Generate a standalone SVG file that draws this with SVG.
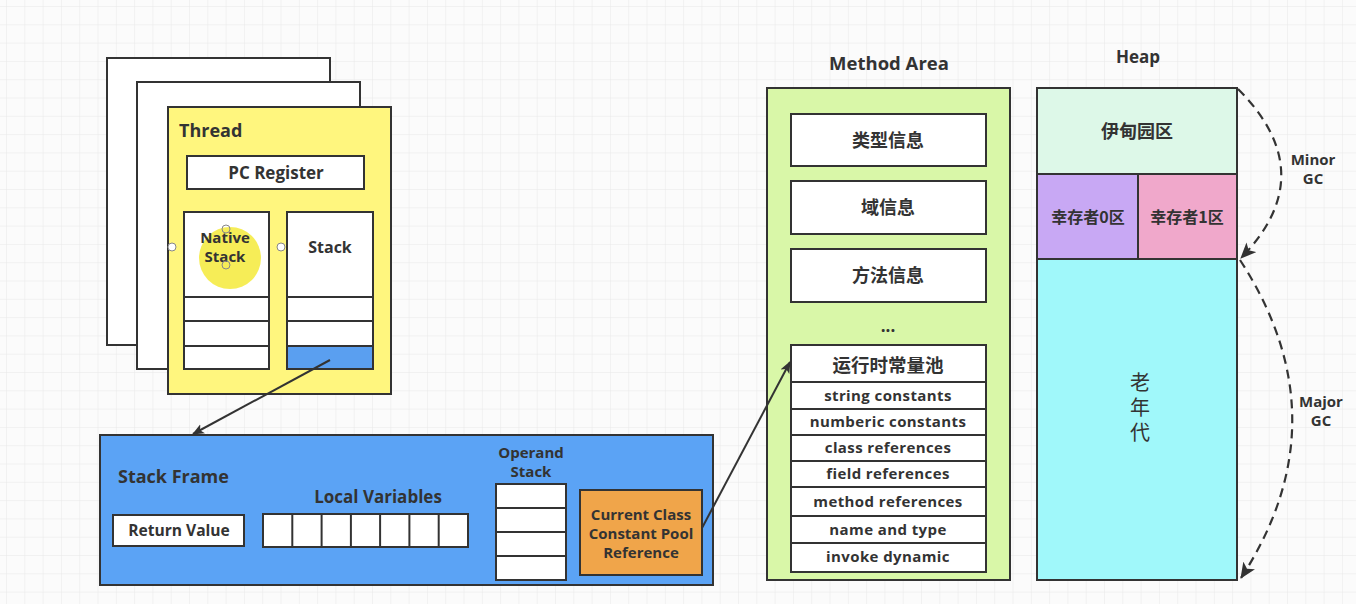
<svg xmlns="http://www.w3.org/2000/svg" width="1356" height="604" viewBox="0 0 1356 604">
<defs>
<pattern id="grid" x="7" y="7" width="18.3" height="18.3" patternUnits="userSpaceOnUse">
<path d="M18.3 0V18.3M0 18.3H18.3" fill="none" stroke="#e8e8e8" stroke-width="1"/>
</pattern>
<marker id="arr" viewBox="0 0 12 12" refX="11" refY="6" markerWidth="12" markerHeight="12" markerUnits="userSpaceOnUse" orient="auto">
<path d="M0,1 L12,6 L0,11 L3,6 Z" fill="#333"/>
</marker>
<marker id="arr2" viewBox="0 0 16 14" refX="15" refY="7" markerWidth="16" markerHeight="14" markerUnits="userSpaceOnUse" orient="auto">
<path d="M0,0 L16,7 L0,14 L4,7 Z" fill="#333"/>
</marker>
</defs>
<style>
.b{stroke:#333;stroke-width:2}
.w{fill:#fff;stroke:#333;stroke-width:2}
.t{font-family:"Open Sans","Noto Sans CJK SC",sans-serif;font-weight:bold;fill:#333;text-anchor:middle}
.s14{font-size:14px}
.s15{font-size:15px}
.s16{font-size:16px}
.s17{font-size:17px}
.s18{font-size:18px}
.m{font-size:15px;letter-spacing:0.4px}
.c{font-family:"Noto Sans CJK SC",sans-serif;font-weight:bold;fill:#333;text-anchor:middle}
.dash{fill:none;stroke:#333;stroke-width:2.2;stroke-dasharray:9 6}
</style>
<rect width="1356" height="604" fill="#fbfbfb"/>
<rect width="1356" height="604" fill="url(#grid)"/>

<g id="thread-pages">
<rect x="107" y="58" width="223" height="287" class="w"/>
<rect x="137" y="82" width="223" height="287" class="w"/>
</g>

<g id="thread">
<rect x="168" y="107" width="223" height="287" fill="#fff67e" class="b"/>
<text x="179" y="137" class="t s18" style="text-anchor:start">Thread</text>
</g>

<g id="pc-register">
<rect x="187" y="156" width="177" height="33" class="w"/>
<text x="276" y="179" class="t s17">PC Register</text>
</g>

<g id="native-stack">
<rect x="184" y="212" width="85" height="157" class="w"/>
<line x1="184" y1="297" x2="269" y2="297" class="b"/>
<line x1="184" y1="321" x2="269" y2="321" class="b"/>
<line x1="184" y1="346" x2="269" y2="346" class="b"/>
<circle cx="230" cy="258" r="31" fill="#f5ea3a" opacity="0.85"/>
<text x="225" y="243" class="t s15">Native</text>
<text x="225" y="262" class="t s15">Stack</text>
<circle cx="172" cy="247" r="4" fill="#fff" stroke="#888" stroke-width="1"/>
<circle cx="281" cy="247" r="4" fill="#fff" stroke="#888" stroke-width="1"/>
<circle cx="226" cy="229" r="4" fill="none" stroke="#888" stroke-width="1"/>
<circle cx="226" cy="265" r="4" fill="none" stroke="#888" stroke-width="1"/>
</g>

<g id="stack">
<rect x="287" y="212" width="86" height="157" class="w"/>
<rect x="287" y="346" width="86" height="23" fill="#5a9ff0" class="b"/>
<line x1="287" y1="297" x2="373" y2="297" class="b"/>
<line x1="287" y1="321" x2="373" y2="321" class="b"/>
<text x="330" y="253" class="t s16">Stack</text>
</g>

<g id="stack-frame">
<rect x="100" y="435" width="613" height="150" fill="#5ba3f5" class="b"/>
<text x="118" y="483" class="t s18" style="text-anchor:start">Stack Frame</text>
</g>

<g id="return-value">
<rect x="113" y="515" width="131" height="31" class="w"/>
<text x="179" y="536" class="t" style="font-size:15.6px">Return Value</text>
</g>

<g id="local-variables">
<text x="378" y="503" class="t s17">Local Variables</text>
<rect x="263" y="514" width="205" height="33" class="w"/>
<line x1="292.3" y1="514" x2="292.3" y2="547" class="b"/>
<line x1="321.6" y1="514" x2="321.6" y2="547" class="b"/>
<line x1="350.9" y1="514" x2="350.9" y2="547" class="b"/>
<line x1="380.1" y1="514" x2="380.1" y2="547" class="b"/>
<line x1="409.4" y1="514" x2="409.4" y2="547" class="b"/>
<line x1="438.7" y1="514" x2="438.7" y2="547" class="b"/>
</g>

<g id="operand-stack">
<text x="531" y="458" class="t s15">Operand</text>
<text x="531" y="477" class="t s15">Stack</text>
<rect x="496" y="484" width="70" height="96" class="w"/>
<line x1="496" y1="508" x2="566" y2="508" class="b"/>
<line x1="496" y1="532" x2="566" y2="532" class="b"/>
<line x1="496" y1="556" x2="566" y2="556" class="b"/>
</g>

<g id="current-class-ref">
<rect x="580" y="490" width="122" height="85" fill="#f0a54a" class="b"/>
<text x="641" y="520" class="t s15">Current Class</text>
<text x="641" y="539" class="t s15">Constant Pool</text>
<text x="641" y="558" class="t s15">Reference</text>
</g>

<g id="method-area">
<text x="889" y="70" class="t" style="font-size:18.5px">Method Area</text>
<rect x="767" y="88" width="243" height="492" fill="#d9f7a8" class="b"/>
<text x="888" y="332" class="t s17">...</text>
</g>

<g id="type-info">
<rect x="791" y="114" width="195" height="52" class="w"/>
<text x="888" y="147" class="c s18">类型信息</text>
</g>
<g id="field-info">
<rect x="791" y="181" width="195" height="53" class="w"/>
<text x="888" y="214" class="c s18">域信息</text>
</g>
<g id="method-info">
<rect x="791" y="249" width="195" height="53" class="w"/>
<text x="888" y="282" class="c s18">方法信息</text>
</g>

<g id="runtime-constant-pool">
<rect x="791" y="345" width="195" height="227" class="w"/>
<line x1="791" y1="382" x2="986" y2="382" class="b"/>
<line x1="791" y1="409" x2="986" y2="409" class="b"/>
<line x1="791" y1="435" x2="986" y2="435" class="b"/>
<line x1="791" y1="461" x2="986" y2="461" class="b"/>
<line x1="791" y1="487" x2="986" y2="487" class="b"/>
<line x1="791" y1="516" x2="986" y2="516" class="b"/>
<line x1="791" y1="543" x2="986" y2="543" class="b"/>
<text x="888" y="372" class="c" style="font-size:18.5px">运行时常量池</text>
<text x="888" y="401" class="t m">string constants</text>
<text x="888" y="427" class="t m">numberic constants</text>
<text x="888" y="453" class="t m">class references</text>
<text x="888" y="479" class="t m">field references</text>
<text x="888" y="507" class="t m">method references</text>
<text x="888" y="535" class="t m">name and type</text>
<text x="888" y="562" class="t m">invoke dynamic</text>
</g>

<g id="heap">
<text x="1138" y="63" class="t s17">Heap</text>
</g>
<g id="eden">
<rect x="1037" y="88" width="200" height="86" fill="#ddf8e8" class="b"/>
<text x="1137" y="138" class="c s18">伊甸园区</text>
</g>
<g id="survivor0">
<rect x="1037" y="174" width="101" height="85" fill="#c8a8f4" class="b"/>
<text x="1088" y="223" class="c s16">幸存者0区</text>
</g>
<g id="survivor1">
<rect x="1138" y="174" width="99" height="85" fill="#f0a8cb" class="b"/>
<text x="1187" y="223" class="c s16">幸存者1区</text>
</g>
<g id="old-gen">
<rect x="1037" y="259" width="200" height="321" fill="#a0f8fa" class="b"/>
<text x="1140" y="410" class="c" writing-mode="vertical-rl" style="font-size:20px;font-weight:normal;letter-spacing:5px">老年代</text>
</g>

<g id="connectors">
<line x1="330" y1="360" x2="193" y2="434" class="b" marker-end="url(#arr)"/>
<line x1="702" y1="528" x2="790" y2="362" class="b" marker-end="url(#arr)"/>
<path d="M1238,89 Q1323,174 1241,258" class="dash" marker-end="url(#arr2)"/>
<path d="M1240,260 Q1344,420 1241,578" class="dash" marker-end="url(#arr2)"/>
<text x="1313" y="165" class="t s15">Minor</text>
<text x="1313" y="184" class="t s15">GC</text>
<text x="1321" y="407" class="t s15">Major</text>
<text x="1321" y="426" class="t s15">GC</text>
</g>
</svg>
